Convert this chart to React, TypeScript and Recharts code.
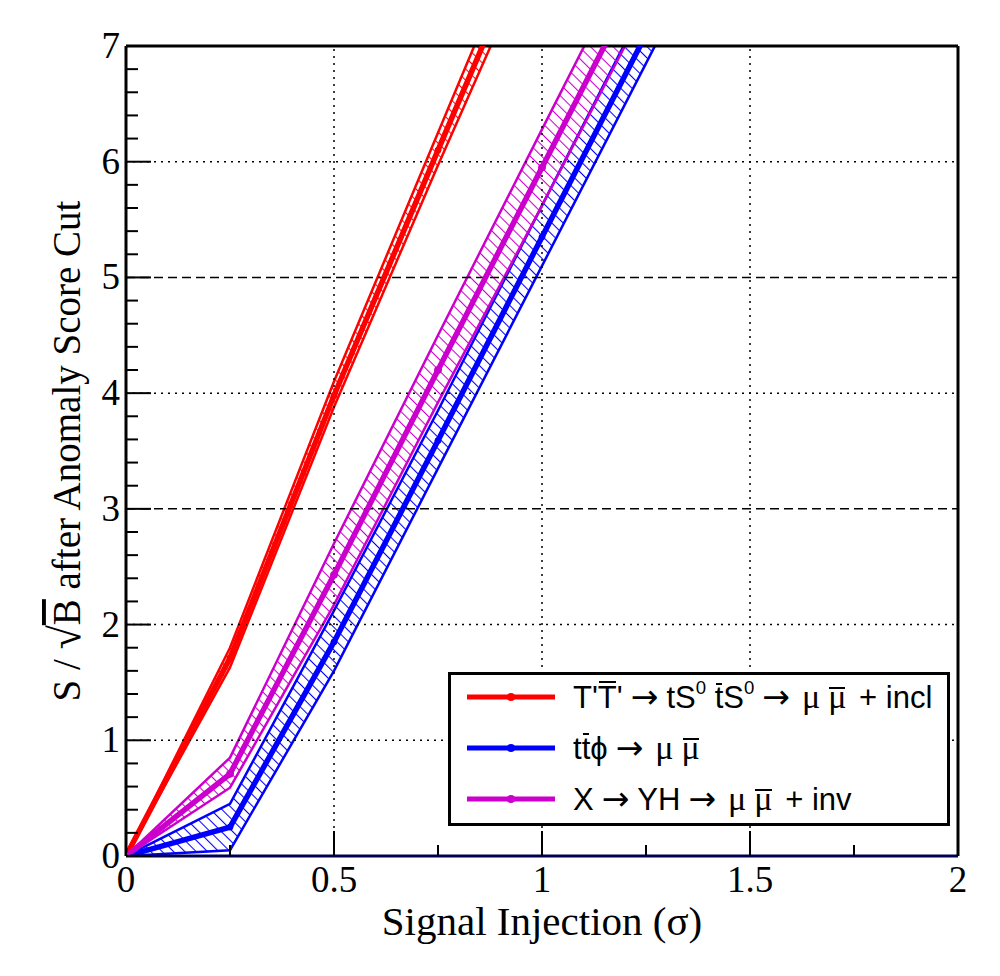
import React from "react";
import {
  ComposedChart,
  Line,
  Area,
  XAxis,
  YAxis,
  ReferenceLine,
} from "recharts";

// signal injection strength (x) and S/sqrt(B)
const xValues = [0, 0.25, 0.5, 0.75, 1.0, 1.25, 1.5];

const redMid = [0, 1.71, 3.98, 6.1, 8.2, null, null];
const redLow = [0, 1.63, 3.88, 5.97, 8.0, null, null];
const redHigh = [0, 1.8, 4.1, 6.25, 8.4, null, null];

const blueMid = [0, 0.25, 1.85, 3.59, 5.35, 7.1, 8.85];
const blueLow = [0, 0.05, 1.6, 3.35, 5.1, 6.85, 8.6];
const blueHigh = [0, 0.45, 2.12, 3.85, 5.62, 7.38, 9.1];

const magMid = [0, 0.71, 2.43, 4.2, 5.95, 7.7, 9.45];
const magLow = [0, 0.59, 2.17, 3.92, 5.62, 7.35, 9.1];
const magHigh = [0, 0.85, 2.7, 4.5, 6.28, 8.05, 9.8];

const xMajorTicks = [0, 0.5, 1, 1.5, 2];
const xTicks = [0, 0.25, 0.5, 0.75, 1, 1.25, 1.5, 1.75, 2];
const xTickLabels = ["0", "0.5", "1", "1.5", "2"];

const yMajorTicks = [0, 1, 2, 3, 4, 5, 6, 7];
const yTicks = [
  0, 0.2, 0.4, 0.6, 0.8, 1, 1.2, 1.4, 1.6, 1.8, 2, 2.2, 2.4, 2.6, 2.8, 3, 3.2,
  3.4, 3.6, 3.8, 4, 4.2, 4.4, 4.6, 4.8, 5, 5.2, 5.4, 5.6, 5.8, 6, 6.2, 6.4, 6.6,
  6.8, 7,
];

const gridX = [0.5, 1, 1.5];
const gridYDotted = [1, 2, 4, 6];
const gridYDashed = [3, 5];

const RED = "#ff0000";
const BLUE = "#0000ff";
const MAGENTA = "#cc00cc";

const SERIF = "Liberation Serif, DejaVu Serif, serif";
const SANS = "Liberation Sans, Arial, sans-serif";

const band = (lo: (number | null)[], hi: (number | null)[], i: number) =>
  lo[i] == null || hi[i] == null ? null : [lo[i], hi[i]];

const data = xValues.map((x, i) => ({
  x,
  red: redMid[i],
  redBand: band(redLow, redHigh, i),
  blue: blueMid[i],
  blueBand: band(blueLow, blueHigh, i),
  mag: magMid[i],
  magBand: band(magLow, magHigh, i),
}));

// a letter with a bar drawn just above it
const Bar = ({ children, top }: { children: React.ReactNode; top: string }) => (
  <span style={{ position: "relative", display: "inline-block", lineHeight: 1 }}>
    {children}
    <span
      style={{ position: "absolute", left: 1, right: 1, top, height: 2, background: "#000" }}
    />
  </span>
);
const Sup = ({ children }: { children: React.ReactNode }) => (
  <sup style={{ fontSize: "0.6em", verticalAlign: "0.75em" }}>{children}</sup>
);
const Arr = () => (
  <span style={{ fontFamily: "DejaVu Sans", fontSize: 33, margin: "0 8px" }}>→</span>
);
const Mu = ({ bar }: { bar?: boolean }) => (
  <span style={{ fontFamily: SERIF, fontSize: 34, margin: "0 4px" }}>
    {bar ? <Bar top="0.22em">μ</Bar> : "μ"}
  </span>
);

const legendItems = [
  {
    color: RED,
    label: (
      <>
        T'<Bar top="-0.02em">T</Bar>'<Arr />
        tS<Sup>0</Sup> <Bar top="0.02em">t</Bar>S<Sup>0</Sup>
        <Arr />
        <Mu />
        <Mu bar /> + incl
      </>
    ),
  },
  {
    color: BLUE,
    label: (
      <>
        t<Bar top="0.02em">t</Bar>ϕ<Arr />
        <Mu />
        <Mu bar />
      </>
    ),
  },
  {
    color: MAGENTA,
    label: (
      <>
        X<Arr />
        YH<Arr />
        <Mu />
        <Mu bar /> + inv
      </>
    ),
  },
];

const renderYTick = (props: any) => {
  const { x, y, payload } = props;
  const major = yMajorTicks.includes(payload.value);
  return (
    <g>
      <line x1={x} y1={y} x2={x + (major ? 25 : 12)} y2={y} stroke="#000" strokeWidth={2} />
      {major && (
        <text x={x - 6} y={y + 12} textAnchor="end" fontFamily={SERIF} fontSize={37} fill="#000">
          {payload.value}
        </text>
      )}
    </g>
  );
};

const renderXTick = (props: any) => {
  const { x, y, payload } = props;
  const idx = xMajorTicks.indexOf(payload.value);
  const major = idx >= 0;
  return (
    <g>
      <line x1={x} y1={y} x2={x} y2={y - (major ? 25 : 11)} stroke="#000" strokeWidth={2} />
      {major && (
        <text x={x} y={y + 36} textAnchor="middle" fontFamily={SERIF} fontSize={37} fill="#000">
          {xTickLabels[idx]}
        </text>
      )}
    </g>
  );
};

const renderYLabel = (props: any) => {
  const vb = props.viewBox || { x: 0, y: 38, width: 118, height: 810 };
  const cx = 72;
  const cy = vb.y + vb.height / 2;
  return (
    <text
      x={cx}
      y={cy}
      transform={`rotate(-90, ${cx}, ${cy})`}
      textAnchor="middle"
      fontFamily={SERIF}
      fontSize={39}
      fill="#000"
    >
      <tspan>S / </tspan>
      <tspan fontSize={44}>√</tspan>
      <tspan textDecoration="overline">B</tspan>
      <tspan> after Anomaly Score Cut</tspan>
    </text>
  );
};

const renderXLabel = (props: any) => {
  const vb = props.viewBox || { x: 118, y: 848, width: 832, height: 112 };
  return (
    <text
      x={vb.x + vb.width / 2}
      y={vb.y + 79}
      textAnchor="middle"
      fontFamily={SERIF}
      fontSize={41}
      fill="#000"
    >
      Signal Injection (σ)
    </text>
  );
};

const hatch = (id: string, color: string) => (
  <pattern
    id={id}
    width={8}
    height={8}
    patternUnits="userSpaceOnUse"
    patternTransform="rotate(-45)"
  >
    <line x1={0} y1={0} x2={0} y2={8} stroke={color} strokeWidth={2.1} />
  </pattern>
);

export default function App() {
  return (
    <div style={{ position: "relative", width: 984, height: 960 }}>
      <ComposedChart
        width={984}
        height={960}
        data={data}
        margin={{ top: 38, right: 34, left: 0, bottom: 0 }}
      >
        <defs>
          {hatch("hatchRed", RED)}
          {hatch("hatchBlue", BLUE)}
          {hatch("hatchMag", MAGENTA)}
        </defs>
        <XAxis
          type="number"
          dataKey="x"
          domain={[0, 2]}
          allowDataOverflow
          ticks={xTicks}
          interval={0}
          tick={renderXTick}
          tickLine={false}
          tickSize={0}
          tickMargin={0}
          axisLine={{ stroke: "#000050", strokeWidth: 3 }}
          height={112}
          label={renderXLabel}
        />
        <YAxis
          type="number"
          domain={[0, 7]}
          allowDataOverflow
          ticks={yTicks}
          interval={0}
          tick={renderYTick}
          tickLine={false}
          tickSize={0}
          tickMargin={0}
          axisLine={{ stroke: "#000", strokeWidth: 3 }}
          width={118}
          label={renderYLabel}
        />
        {gridX.map((v) => (
          <ReferenceLine key={`gx${v}`} x={v} stroke="#000" strokeWidth={1.5} strokeDasharray="2 5" />
        ))}
        {gridYDotted.map((v) => (
          <ReferenceLine key={`gy${v}`} y={v} stroke="#000" strokeWidth={1.5} strokeDasharray="2 5" />
        ))}
        {gridYDashed.map((v) => (
          <ReferenceLine key={`gd${v}`} y={v} stroke="#000" strokeWidth={1.5} strokeDasharray="9 5" />
        ))}
        <ReferenceLine y={7} stroke="#000" strokeWidth={3} />
        <ReferenceLine x={2} stroke="#000" strokeWidth={3} />

        <Area
          dataKey="redBand"
          type="linear"
          stroke={RED}
          strokeWidth={2.5}
          fill="url(#hatchRed)"
          fillOpacity={1}
          isAnimationActive={false}
          activeDot={false}
        />
        <Area
          dataKey="blueBand"
          type="linear"
          stroke={BLUE}
          strokeWidth={2.5}
          fill="url(#hatchBlue)"
          fillOpacity={1}
          isAnimationActive={false}
          activeDot={false}
        />
        <Area
          dataKey="magBand"
          type="linear"
          stroke={MAGENTA}
          strokeWidth={2.5}
          fill="url(#hatchMag)"
          fillOpacity={1}
          isAnimationActive={false}
          activeDot={false}
        />
        <Line
          dataKey="red"
          type="linear"
          stroke={RED}
          strokeWidth={5.5}
          dot={{ r: 3, fill: RED, stroke: RED, strokeWidth: 1 }}
          isAnimationActive={false}
          activeDot={false}
        />
        <Line
          dataKey="blue"
          type="linear"
          stroke={BLUE}
          strokeWidth={5.5}
          dot={{ r: 3, fill: BLUE, stroke: BLUE, strokeWidth: 1 }}
          isAnimationActive={false}
          activeDot={false}
        />
        <Line
          dataKey="mag"
          type="linear"
          stroke={MAGENTA}
          strokeWidth={5.5}
          dot={{ r: 3.5, fill: MAGENTA, stroke: MAGENTA, strokeWidth: 1 }}
          isAnimationActive={false}
          activeDot={false}
        />
      </ComposedChart>

      <div
        style={{
          position: "absolute",
          left: 440,
          top: 664,
          width: 502,
          height: 154,
          boxSizing: "border-box",
          border: "3px solid #000",
          background: "#fff",
          fontFamily: SANS,
          fontSize: 31,
          color: "#000",
        }}
      >
        <div style={{ marginTop: -4 }}>
          {legendItems.map((item, i) => (
            <div
              key={i}
              style={{ display: "flex", alignItems: "center", height: 51, whiteSpace: "nowrap" }}
            >
              <svg width={88} height={12} style={{ marginLeft: 16, flex: "none" }}>
                <line x1={0} y1={6} x2={88} y2={6} stroke={item.color} strokeWidth={5} />
                <circle cx={44} cy={6} r={4} fill={item.color} />
              </svg>
              <span style={{ marginLeft: 18, lineHeight: 1 }}>{item.label}</span>
            </div>
          ))}
        </div>
      </div>
    </div>
  );
}
